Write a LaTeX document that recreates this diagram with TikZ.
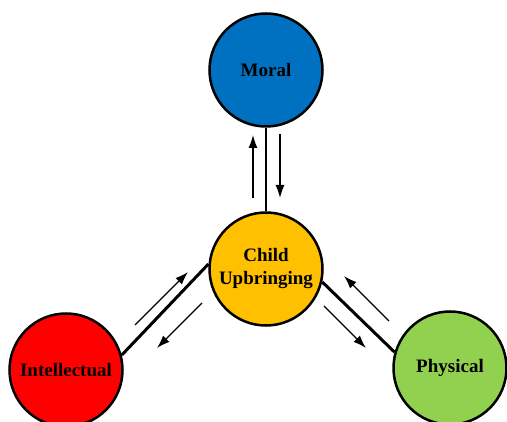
\documentclass[tikz,border=0pt]{standalone}
\usepackage{fontspec}
\setmainfont{Liberation Serif}
\usetikzlibrary{arrows.meta}
\definecolor{moralblue}{HTML}{0070C0}
\definecolor{childgold}{HTML}{FFC000}
\definecolor{intelred}{HTML}{FF0000}
\definecolor{physgreen}{HTML}{92D050}
\tikzset{
  bubble/.style={circle, draw=black, line width=2.5pt, minimum size=113pt, inner sep=0pt, align=center,
    font=\fontsize{19}{23}\selectfont\bfseries, text=black},
  thinlink/.style={line width=1.4pt},
  thicklink/.style={line width=3pt},
  flow/.style={line width=1.3pt, -{Latex[length=13pt,width=9pt]}}
}
\begin{document}
\begin{tikzpicture}[x=1pt,y=-1pt]
\useasboundingbox (0,0) rectangle (507,422);
\clip (0,0) rectangle (507,422);
\node[bubble, fill=moralblue] (moral) at (266,70) {Moral};
\node[bubble, fill=childgold] (child) at (266,269) {Child\\Upbringing};
\node[bubble, fill=intelred] (intel) at (66,370) {Intellectual};
\node[bubble, fill=physgreen] (phys) at (450,368) {Physical};
\draw[thinlink] (moral) -- (child);
\draw[thicklink] (intel.15) -- (child.175);
\draw[thicklink] (child.-13) -- (phys.164);
\coordinate (mu1) at (253,198); \coordinate (mu2) at (253,135);
\coordinate (md1) at (280,134); \coordinate (md2) at (280,198);
\coordinate (iu1) at (135,325); \coordinate (iu2) at (188,272);
\coordinate (id1) at (202,303); \coordinate (id2) at (157,348);
\coordinate (pu1) at (389,321); \coordinate (pu2) at (344,276);
\coordinate (pd1) at (324,306); \coordinate (pd2) at (366,348);
\draw[flow] (mu1) -- (mu2);
\draw[flow] (md1) -- (md2);
\draw[flow] (iu1) -- (iu2);
\draw[flow] (id1) -- (id2);
\draw[flow] (pu1) -- (pu2);
\draw[flow] (pd1) -- (pd2);
\end{tikzpicture}
\end{document}
